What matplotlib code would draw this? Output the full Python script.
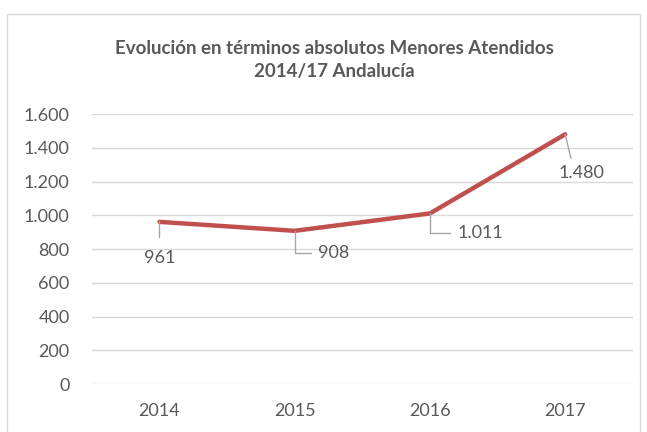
import matplotlib.pyplot as plt
import matplotlib.patches as mpatches
from matplotlib.ticker import FuncFormatter

years = ["2014", "2015", "2016", "2017"]
menores = [961, 908, 1011, 1480]
labels = ["961", "908", "1.011", "1.480"]
yticks = [0, 200, 400, 600, 800, 1000, 1200, 1400, 1600]

gray_txt = "#595959"
plt.rcParams['font.family'] = ['Lato', 'DejaVu Sans']

fig = plt.figure(figsize=(6.47, 4.32), dpi=100)
ax = fig.add_axes([0.142, 0.111, 0.836, 0.625])

# outer chart border
border = mpatches.Rectangle((7/647, -0.05), 633/647, 1 - 14/432 + 0.05,
                            transform=fig.transFigure, fill=False,
                            edgecolor="#D9D9D9", linewidth=1, clip_on=False)
fig.patches.append(border)

x = list(range(len(years)))
ax.plot(x, menores, color="#C0504D", linewidth=3.2, solid_capstyle="round", zorder=3)

ax.set_xlim(-0.5, 3.5)
ax.set_ylim(0, 1600)
ax.set_yticks(yticks)
ax.yaxis.set_major_formatter(FuncFormatter(lambda v, p: f"{int(v):,}".replace(",", ".")))
ax.set_xticks(x)
ax.set_xticklabels(years)
ax.grid(axis="y", color="#D9D9D9", linewidth=1)
ax.set_axisbelow(True)
for s in ax.spines.values():
    s.set_visible(False)
ax.tick_params(length=0, labelsize=13, labelcolor=gray_txt)
ax.tick_params(axis="y", pad=16)
ax.tick_params(axis="x", pad=14)

# data labels with leader lines (offsets in points)
fs = 13
lead = dict(arrowstyle="-", color="#A6A6A6", linewidth=1)
ax.annotate(labels[0], (x[0], menores[0]), xytext=(0, -26), textcoords="offset points",
            ha="center", va="center", fontsize=fs, color=gray_txt,
            arrowprops=dict(lead, shrinkA=7, shrinkB=0))
ax.annotate(labels[1], (x[1], menores[1]), xytext=(28, -16), textcoords="offset points",
            ha="center", va="center", fontsize=fs, color=gray_txt,
            arrowprops=dict(lead, relpos=(0, 0.5), shrinkA=3, shrinkB=0,
                            connectionstyle="angle,angleA=0,angleB=90,rad=0"))
ax.annotate(labels[2], (x[2], menores[2]), xytext=(36, -14), textcoords="offset points",
            ha="center", va="center", fontsize=fs, color=gray_txt,
            arrowprops=dict(lead, relpos=(0, 0.5), shrinkA=3, shrinkB=0,
                            connectionstyle="angle,angleA=0,angleB=90,rad=0"))
ax.annotate(labels[3], (x[3], menores[3]), xytext=(12, -28), textcoords="offset points",
            ha="center", va="center", fontsize=fs, color=gray_txt,
            arrowprops=dict(lead, relpos=(0.3, 1), shrinkA=3, shrinkB=0))

fig.text(0.517, 0.862, "Evolución en términos absolutos Menores Atendidos\n2014/17 Andalucía",
         ha="center", va="center", fontsize=13.5, fontweight="bold", color=gray_txt,
         linespacing=1.42)

fig.savefig("out.png", dpi=100)
